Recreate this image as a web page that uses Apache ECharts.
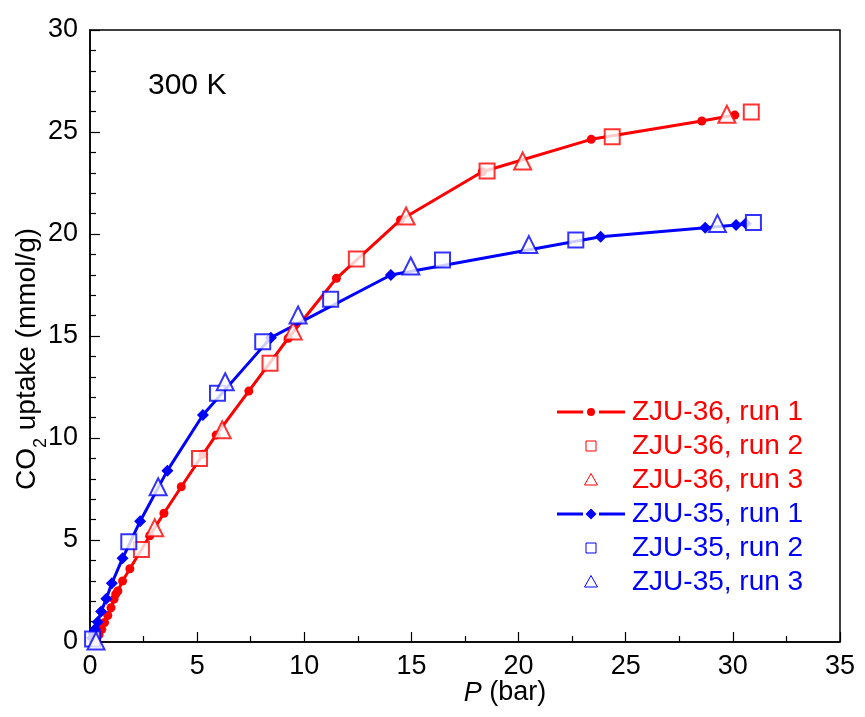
<!DOCTYPE html>
<html><head><meta charset="utf-8">
<script src="https://cdn.jsdelivr.net/npm/echarts@6/dist/echarts.min.js"></script>
<style>html,body{margin:0;padding:0;background:#fff}#c{width:865px;height:717px}</style>
</head><body><div id="c"></div>
<script>
// ZJU-36
const zju36Run1P = [0.3,0.42,0.55,0.68,0.83,0.98,1.12,1.2,1.3,1.52,1.86,2.79,3.45,4.26,5.27,5.89,7.41,9.25,11.5,14.49,18.31,23.39,28.55,30.09];
const zju36Run1Q = [0.1,0.35,0.62,0.95,1.3,1.68,2.1,2.35,2.5,2.99,3.59,5.21,6.31,7.61,9.2,10.15,12.3,14.89,17.83,20.69,23.05,24.64,25.54,25.83];
const zju36Run2P = [2.40,5.11,8.40,12.43,18.53,24.37,30.86];
const zju36Run2Q = [4.54,9.0,13.66,18.77,23.09,24.77,25.98];
const zju36Run3P = [3.02,6.17,9.48,14.75,20.19,29.72];
const zju36Run3Q = [5.60,10.4,15.25,20.88,23.58,25.87];
// ZJU-35
const zju35Run1P = [0.1,0.15,0.23,0.36,0.52,0.76,1.02,1.52,2.34,3.61,5.27,8.44,14.04,23.83,28.71,30.15,30.6];
const zju35Run1Q = [0.2,0.4,0.62,0.98,1.49,2.12,2.88,4.10,5.92,8.40,11.13,14.92,17.99,19.87,20.31,20.44,20.52];
const zju35Run2P = [0.12,1.81,5.95,8.06,11.23,16.45,22.67,30.96];
const zju35Run2Q = [0.15,4.92,12.19,14.72,16.8,18.73,19.71,20.56];
const zju35Run3P = [0.28,3.18,6.31,9.71,14.97,20.48,29.28];
const zju35Run3Q = [0.05,7.61,12.76,16.03,18.43,19.48,20.52];

const seriesNames = ['ZJU-36, run 1','ZJU-36, run 2','ZJU-36, run 3','ZJU-35, run 1','ZJU-35, run 2','ZJU-35, run 3'];
const seriesKinds = ['circleLine','square','triangle','diamondLine','square','triangle'];
const xTickLabels = ['0','5','10','15','20','25','30','35'];
const yTickLabels = ['0','5','10','15','20','25','30'];
const RED = '#ff0000', BLUE = '#0000ff';
const FONT = '"Liberation Sans", Arial, sans-serif';

const zip = (a, b) => a.map((v, i) => [v, b[i]]);

// Legend drawn as graphic elements (icon box + coloured text)
function legendGraphics() {
  const els = [];
  const x0 = 557, x1 = 625, cx = 591, textX = 632, top = 412, gap = 34;
  seriesNames.forEach((name, i) => {
    const col = i < 3 ? RED : BLUE;
    const y = top + i * gap;
    const kind = seriesKinds[i];
    if (kind === 'circleLine' || kind === 'diamondLine') {
      els.push({type: 'line', shape: {x1: x0, y1: y, x2: cx - 8, y2: y}, style: {stroke: col, lineWidth: 3}});
      els.push({type: 'line', shape: {x1: cx + 8, y1: y, x2: x1, y2: y}, style: {stroke: col, lineWidth: 3}});
      if (kind === 'circleLine') {
        els.push({type: 'circle', shape: {cx: cx, cy: y, r: 4}, style: {fill: col}});
      } else {
        els.push({type: 'polygon', shape: {points: [[cx, y - 5.5], [cx + 5.5, y], [cx, y + 5.5], [cx - 5.5, y]]}, style: {fill: col}});
      }
    } else if (kind === 'square') {
      els.push({type: 'rect', shape: {x: cx - 5, y: y - 5, width: 10, height: 10}, style: {fill: '#fff', stroke: col, lineWidth: 1}});
    } else {
      els.push({type: 'polygon', shape: {points: [[cx, y - 6.5], [cx + 6.5, y + 5], [cx - 6.5, y + 5]]}, style: {fill: '#fff', stroke: col, lineWidth: 1}});
    }
    els.push({type: 'text', style: {text: name, x: textX, y: y, verticalAlign: 'middle', fill: col, fontSize: 28, fontFamily: FONT}});
  });
  return els;
}

const chart = echarts.init(document.getElementById('c'), null, {renderer: 'canvas'});
chart.setOption({
  animation: false,
  backgroundColor: '#fff',
  textStyle: {fontFamily: FONT},
  grid: {left: 90, right: 25, top: 30, bottom: 75, show: true, borderColor: '#000', borderWidth: 1.5, backgroundColor: 'transparent'},
  xAxis: {
    type: 'value', min: 0, max: 35, interval: 5,
    axisLine: {lineStyle: {color: '#000', width: 1.5}},
    axisTick: {inside: true, length: 10, lineStyle: {color: '#000', width: 1.2}},
    minorTick: {show: true, splitNumber: 2, length: 6, lineStyle: {color: '#000', width: 1.2}},
    splitLine: {show: false},
    axisLabel: {color: '#000', fontSize: 27, fontFamily: FONT, margin: 11,
      formatter: v => xTickLabels[Math.round(v / 5)]}
  },
  yAxis: {
    type: 'value', min: 0, max: 30, interval: 5,
    axisLine: {lineStyle: {color: '#000', width: 1.5}},
    axisTick: {inside: true, length: 10, lineStyle: {color: '#000', width: 1.2}},
    minorTick: {show: true, splitNumber: 5, length: 6, lineStyle: {color: '#000', width: 1.2}},
    splitLine: {show: false},
    axisLabel: {color: '#000', fontSize: 27, fontFamily: FONT, margin: 12,
      formatter: v => yTickLabels[Math.round(v / 5)]}
  },
  graphic: [
    {type: 'text', style: {text: '300 K', x: 148, y: 86, verticalAlign: 'middle', fill: '#000', fontSize: 30, fontFamily: FONT}},
    {type: 'text', x: 27, y: 359, rotation: Math.PI / 2,
      style: {text: '{a|CO}{s|2}{a| uptake (mmol/g)}', align: 'center', verticalAlign: 'middle', fill: '#000',
        rich: {a: {fontSize: 28, fontFamily: FONT, fill: '#000'}, s: {fontSize: 18, fontFamily: FONT, fill: '#000', verticalAlign: 'bottom', padding: [0, 0, -9, 0]}}}},
    {type: 'text', x: 505, y: 693,
      style: {text: '{i|P}{a| (bar)}', align: 'center', verticalAlign: 'middle', fill: '#000',
        rich: {i: {fontSize: 27, fontFamily: FONT, fontStyle: 'italic', fill: '#000'}, a: {fontSize: 27, fontFamily: FONT, fill: '#000'}}}}
  ].concat(legendGraphics()),
  series: [
    {name: seriesNames[0], type: 'line', data: zip(zju36Run1P, zju36Run1Q), symbol: 'circle', symbolSize: 9,
      itemStyle: {color: RED}, lineStyle: {color: RED, width: 3}, z: 2},
    {name: seriesNames[3], type: 'line', data: zip(zju35Run1P, zju35Run1Q), symbol: 'diamond', symbolSize: 12,
      itemStyle: {color: BLUE}, lineStyle: {color: BLUE, width: 3}, z: 2},
    {name: seriesNames[1], type: 'scatter', data: zip(zju36Run2P, zju36Run2Q), symbol: 'emptyRect', symbolSize: 15,
      itemStyle: {color: RED, borderWidth: 1.2}, z: 3},
    {name: seriesNames[2], type: 'scatter', data: zip(zju36Run3P, zju36Run3Q), symbol: 'emptyTriangle', symbolSize: 17,
      itemStyle: {color: RED, borderWidth: 1.2}, z: 3},
    {name: seriesNames[4], type: 'scatter', data: zip(zju35Run2P, zju35Run2Q), symbol: 'emptyRect', symbolSize: 15,
      itemStyle: {color: BLUE, borderWidth: 1.2}, z: 3},
    {name: seriesNames[5], type: 'scatter', data: zip(zju35Run3P, zju35Run3Q), symbol: 'emptyTriangle', symbolSize: 17,
      itemStyle: {color: BLUE, borderWidth: 1.2}, z: 3}
  ]
});
</script></body></html>
